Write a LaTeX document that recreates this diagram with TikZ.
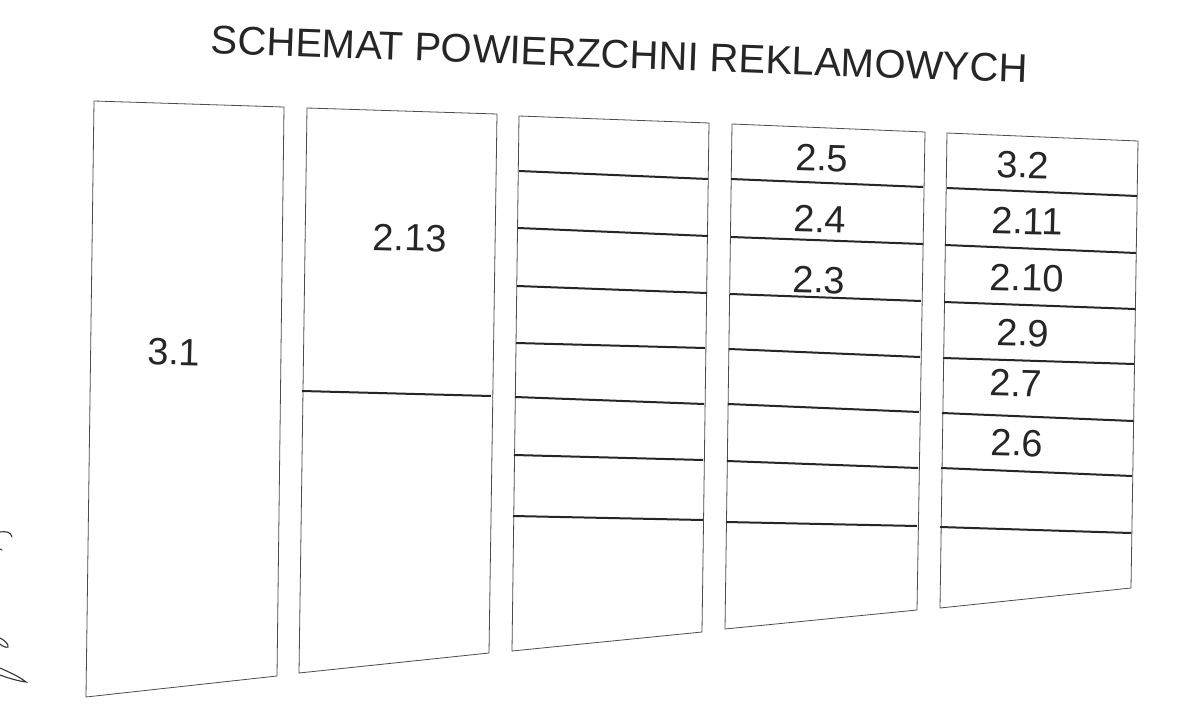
\documentclass[tikz,border=0pt]{standalone}
\usepackage{fontspec}
\setmainfont{Liberation Sans}
\tikzset{
  frame/.style={draw=black!70, line width=0.8pt, line join=miter},
  divider/.style={draw=black!85, line width=2pt},
  lbl/.style={inner sep=0pt, font=\fontsize{38}{40}\selectfont, text=black!85, rotate=-1.5},
  ttl/.style={inner sep=0pt, font=\fontsize{40}{44}\selectfont, text=black!85, rotate=-2.1, anchor=base},
  sig/.style={draw=black!80, line width=1.1pt, line cap=round}
}
\begin{document}
\begin{tikzpicture}[x=1pt,y=-1pt]
\useasboundingbox[fill=white] (0,0) rectangle (1200,717);

% title
\node[ttl] (title) at (619,68) {SCHEMAT POWIERZCHNI REKLAMOWYCH};

% column 1
\coordinate (a1) at (94,101); \coordinate (b1) at (284,107);
\coordinate (c1) at (277,676); \coordinate (d1) at (86,697);
\draw[frame] (a1) -- (b1) -- (c1) -- (d1) -- cycle;
\node[lbl] (l31) at (174,352) {3.1};

% column 2
\coordinate (a2) at (307,108); \coordinate (b2) at (497,114);
\coordinate (c2) at (489,653); \coordinate (d2) at (299,673);
\draw[frame] (a2) -- (b2) -- (c2) -- (d2) -- cycle;
\coordinate (p21) at (302,391); \coordinate (q21) at (491,396);
\draw[divider] (p21) -- (q21);
\node[lbl] (l213) at (410,238) {2.13};

% column 3
\coordinate (a3) at (519,116); \coordinate (b3) at (709,123);
\coordinate (c3) at (702,632); \coordinate (d3) at (512,651);
\draw[frame] (a3) -- (b3) -- (c3) -- (d3) -- cycle;
\foreach \i/\yl/\xl/\xr/\yr in {1/171/519/708/179, 2/228/518/708/236, 3/286/517/707/293,
  4/343/516/705/348, 5/397/515/704/404, 6/455/514/703/460, 7/516/513/703/520}{
  \coordinate (p3\i) at (\xl,\yl); \coordinate (q3\i) at (\xr,\yr);
  \draw[divider] (p3\i) -- (q3\i);
}

% column 4
\coordinate (a4) at (732,124); \coordinate (b4) at (925,132);
\coordinate (c4) at (917,610); \coordinate (d4) at (725,629);
\draw[frame] (a4) -- (b4) -- (c4) -- (d4) -- cycle;
\foreach \i/\yl/\xl/\xr/\yr in {1/179/731/923/187, 2/237/731/923/244, 3/294/730/921/301,
  4/349/729/920/357, 5/404/728/919/412, 6/461/727/918/468, 7/522/726/917/526}{
  \coordinate (p4\i) at (\xl,\yl); \coordinate (q4\i) at (\xr,\yr);
  \draw[divider] (p4\i) -- (q4\i);
}
\node[lbl] (l25) at (822,158) {2.5};
\node[lbl] (l24) at (820,219) {2.4};
\node[lbl] (l23) at (819,280) {2.3};

% column 5
\coordinate (a5) at (947,133); \coordinate (b5) at (1138,141);
\coordinate (c5) at (1131,588); \coordinate (d5) at (940,608);
\draw[frame] (a5) -- (b5) -- (c5) -- (d5) -- cycle;
\foreach \i/\yl/\xl/\xr/\yr in {1/188/947/1137/196, 2/245/945/1136/253, 3/302/944/1135/309,
  4/358/943/1134/364, 5/413/942/1133/421, 6/468/941/1132/476, 7/527/940/1131/533}{
  \coordinate (p5\i) at (\xl,\yl); \coordinate (q5\i) at (\xr,\yr);
  \draw[divider] (p5\i) -- (q5\i);
}
\node[lbl] (l32) at (1023,165) {3.2};
\node[lbl] (l211) at (1027,221) {2.11};
\node[lbl] (l210) at (1027,278) {2.10};
\node[lbl] (l29) at (1023,333) {2.9};
\node[lbl] (l27) at (1016,383) {2.7};
\node[lbl] (l26) at (1017,443) {2.6};

% signature fragments at the left edge
\draw[sig] (0,532) .. controls (6,531) and (11,532) .. (12,537);
\draw[sig] (0,549) -- (2,550);
\draw[sig] (0,638) .. controls (4,640) and (9,644) .. (8,647) .. controls (6,648) and (2,646) .. (0,644);
\draw[sig] (0,668) .. controls (9,672) and (20,677) .. (26,682) .. controls (18,681) and (8,678) .. (0,675);
\end{tikzpicture}
\end{document}
